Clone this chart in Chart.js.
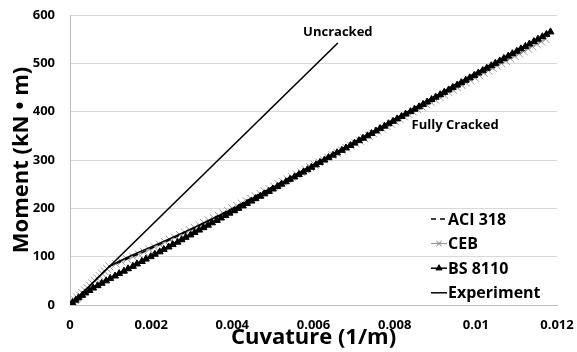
<!DOCTYPE html>
<html>
<head>
<meta charset="utf-8">
<script src="https://cdn.jsdelivr.net/npm/chart.js@4.4.1/dist/chart.umd.min.js"></script>
<style>
  html, body { margin: 0; padding: 0; background: #fff; }
  #wrap { width: 577px; height: 352px; }
</style>
</head>
<body>
<div id="wrap"><canvas id="myChart" width="577" height="352"></canvas></div>
<script>
// moment levels (kN.m) used by the CEB and BS 8110 series
var momentSteps = [0,5,10,15,20,25,30,35,40,45,50,55,60,65,70,75,80,85,90,95,100,105,110,115,120,125,130,135,140,145,150,155,160,165,170,175,180,185,190,195,200,
  205,210,215,220,225,230,235,240,245,250,255,260,265,270,275,280,285,290,295,300,305,310,315,320,325,330,335,340,345,350,355,360,365,370,375,380,385,390,395,
  400,405,410,415,420,425,430,435,440,445,450,455,460,465,470,475,480,485,490,495,500,505,510,515,520,525,530,535,540,545,550,555,560,565];

// curvatures (1/m)
var cebCurv = [0,0.00006,0.00012,0.00018,0.00024,0.00030,0.00037,0.00043,0.00049,0.00055,0.00061,0.00067,0.00073,0.00079,0.00085,0.00091,0.00097,
  0.00113,0.00127,0.00141,0.00155,0.00169,0.00182,0.00195,0.00208,0.00221,0.00234,0.00246,0.00258,0.00271,0.00283,0.00295,0.00307,0.00319,0.00330,0.00342,0.00354,0.00366,0.00377,0.00389,0.00400,
  0.00412,0.00423,0.00435,0.00446,0.00457,0.00469,0.00480,0.00491,0.00503,0.00514,0.00525,0.00536,0.00547,0.00559,0.00570,0.00581,0.00592,0.00603,0.00614,0.00625,0.00636,0.00647,0.00658,0.00670,0.00681,0.00692,0.00703,0.00714,0.00725,0.00736,0.00747,0.00758,0.00769,0.00780,0.00791,
  0.00801,0.00812,0.00823,0.00834,0.00845,0.00856,0.00867,0.00878,0.00889,0.00900,0.00911,0.00922,0.00933,0.00944,0.00954,0.00965,0.00976,0.00987,0.00998,0.01009,0.01020,0.01031,0.01042,0.01052,0.01063,0.01074,0.01085,0.01096,0.01107,0.01118,0.01129,0.01139,0.01150,0.01161,0.01172];

var bsCurv = [0,0.00006,0.00014,0.00021,0.00030,0.00038,0.00048,0.00057,0.00068,0.00078,0.00089,0.00099,0.00111,0.00121,0.00133,0.00143,0.00155,0.00165,0.00177,0.00187,0.00199,0.00209,0.00221,0.00231,0.00243,0.00253,0.00265,0.00275,0.00285,0.00297,0.00307,0.00318,0.00329,0.00340,0.00350,0.00362,0.00372,0.00383,0.00393,0.00405,0.00415,
  0.00426,0.00436,0.00447,0.00457,0.00469,0.00479,0.00490,0.00500,0.00511,0.00521,0.00532,0.00542,0.00553,0.00564,0.00575,0.00585,0.00595,0.00606,0.00616,0.00627,0.00637,0.00648,0.00658,0.00670,0.00680,0.00691,0.00701,0.00712,0.00722,0.00733,0.00743,0.00754,0.00764,0.00775,0.00785,0.00796,0.00806,0.00817,0.00827,
  0.00839,0.00849,0.00860,0.00870,0.00880,0.00891,0.00901,0.00912,0.00922,0.00933,0.00943,0.00954,0.00964,0.00975,0.00985,0.00996,0.01006,0.01017,0.01027,0.01038,0.01048,0.01059,0.01069,0.01080,0.01090,0.01101,0.01111,0.01122,0.01132,0.01143,0.01153,0.01164,0.01174,0.01184];

var aciMom  = [0, 40, 80, 90, 100, 110, 120, 140, 160, 180, 200, 250, 300, 350, 400, 450, 500, 550];
var aciCurv = [0, 0.00049, 0.00097, 0.00125, 0.00153, 0.00181, 0.00207, 0.00259, 0.00308, 0.00355, 0.00401, 0.00512, 0.00620, 0.00728, 0.00834, 0.00940, 0.01045, 0.01151];

var expMom  = [0, 40, 80, 90, 102, 113, 124, 139, 158, 178, 198, 243, 290, 337, 385, 432, 480, 527, 554];
var expCurv = [0, 0.00049, 0.00097, 0.0012, 0.0015, 0.0018, 0.0021, 0.0025, 0.0030, 0.0035, 0.0040, 0.0050, 0.0060, 0.0070, 0.0080, 0.0090, 0.0100, 0.0110, 0.0116];

var uncrMom  = [0, 542];
var uncrCurv = [0, 0.0066];

var xTickLabels = ["0", "0.002", "0.004", "0.006", "0.008", "0.01", "0.012"];
var yTickLabels = ["0", "100", "200", "300", "400", "500", "600"];

var notes = [
  { text: "Uncracked", x: 0.0066, y: 565 },
  { text: "Fully Cracked", x: 0.00949, y: 372 }
];

var FONT = "'Open Sans', 'DejaVu Sans', sans-serif";

function pts(xs, ys) {
  var out = [];
  for (var i = 0; i < xs.length; i++) out.push({ x: xs[i], y: ys[i] });
  return out;
}

var datasets = [
  { label: "ACI 318", data: pts(aciCurv, aciMom), borderColor: "#000", borderWidth: 1.5,
    borderDash: [5, 4], pointRadius: 0, showLine: true, order: 0, inLegend: true },
  { label: "CEB", data: pts(cebCurv, momentSteps), borderColor: "#8c8c8c", borderWidth: 1,
    pointStyle: "crossRot", pointRadius: 5.5, pointBorderColor: "#9a9a9a", pointBorderWidth: 1,
    showLine: true, order: 2, inLegend: true },
  { label: "BS 8110", data: pts(bsCurv, momentSteps), borderColor: "#000", borderWidth: 3,
    pointStyle: "triangle", pointRadius: 4, pointBackgroundColor: "#000", pointBorderColor: "#000",
    pointBorderWidth: 1, showLine: true, order: 1, inLegend: true },
  { label: "Experiment", data: pts(expCurv, expMom), borderColor: "#000", borderWidth: 1.5,
    pointRadius: 0, showLine: true, order: 0, inLegend: true },
  { label: "Uncracked", data: pts(uncrCurv, uncrMom), borderColor: "#000", borderWidth: 1.6,
    pointRadius: 0, showLine: true, order: 0, inLegend: false }
];

// titles, notes and legend drawn onto the canvas
var extras = {
  id: "extras",
  afterDraw: function (chart) {
    var ctx = chart.ctx, xs = chart.scales.x, ys = chart.scales.y, a = chart.chartArea;
    ctx.save();
    ctx.fillStyle = "#000";
    ctx.textAlign = "center";
    ctx.textBaseline = "middle";

    ctx.font = "bold 22px " + FONT;
    ctx.fillText("Cuvature (1/m)", (a.left + a.right) / 2, 338);
    ctx.save();
    ctx.translate(22, (a.top + a.bottom) / 2);
    ctx.rotate(-Math.PI / 2);
    ctx.fillText("Moment (kN \u2022 m)", 0, 0);
    ctx.restore();

    ctx.font = "bold 13px " + FONT;
    notes.forEach(function (n) {
      ctx.fillText(n.text, xs.getPixelForValue(n.x), ys.getPixelForValue(n.y));
    });

    // legend
    ctx.font = "bold 16px " + FONT;
    ctx.textAlign = "left";
    var row = 0;
    datasets.forEach(function (d) {
      if (!d.inLegend) return;
      var y = 219 + row * 24.6;
      ctx.save();
      ctx.strokeStyle = d.borderColor;
      ctx.lineWidth = d.label === "BS 8110" ? 1.5 : d.borderWidth;
      ctx.setLineDash(d.borderDash || []);
      ctx.beginPath();
      ctx.moveTo(431, y);
      ctx.lineTo(447, y);
      ctx.stroke();
      ctx.setLineDash([]);
      if (d.pointRadius) {
        Chart.helpers.drawPoint(ctx, {
          pointStyle: d.pointStyle, radius: d.label === "BS 8110" ? 2.5 : 3.5, borderWidth: 1
        }, 439, y);
        ctx.fillStyle = d.pointBackgroundColor || d.borderColor;
        ctx.strokeStyle = d.pointBorderColor || d.borderColor;
        ctx.fill();
        ctx.stroke();
      }
      ctx.restore();
      ctx.fillText(d.label, 448, y + 1);
      row++;
    });
    ctx.restore();
  }
};

new Chart("myChart", {
  type: "scatter",
  data: { datasets: datasets },
  plugins: [extras],
  options: {
    responsive: false,
    animation: false,
    layout: { padding: { top: 15, right: 20, left: 0, bottom: 0 } },
    plugins: { legend: { display: false }, tooltip: { enabled: false } },
    scales: {
      x: {
        type: "linear", min: 0, max: 0.012,
        afterFit: function (s) { s.height = 47; s.paddingLeft = 0; s.paddingRight = 0; },
        grid: { display: false, drawTicks: false },
        border: { display: true, color: "#bfbfbf", width: 1 },
        ticks: {
          stepSize: 0.002, padding: 12, color: "#000",
          font: { family: FONT, size: 13, weight: "bold" },
          callback: function (v, i) { return xTickLabels[i]; }
        }
      },
      y: {
        type: "linear", min: 0, max: 600,
        afterFit: function (s) { s.width = 70; s.paddingTop = 0; s.paddingBottom = 0; },
        grid: { color: "#d9d9d9", lineWidth: 1, drawTicks: false },
        border: { display: true, color: "#bfbfbf", width: 1 },
        ticks: {
          stepSize: 100, padding: 15, color: "#000",
          font: { family: FONT, size: 13, weight: "bold" },
          callback: function (v, i) { return yTickLabels[i]; }
        }
      }
    }
  }
});
</script>
</body>
</html>
